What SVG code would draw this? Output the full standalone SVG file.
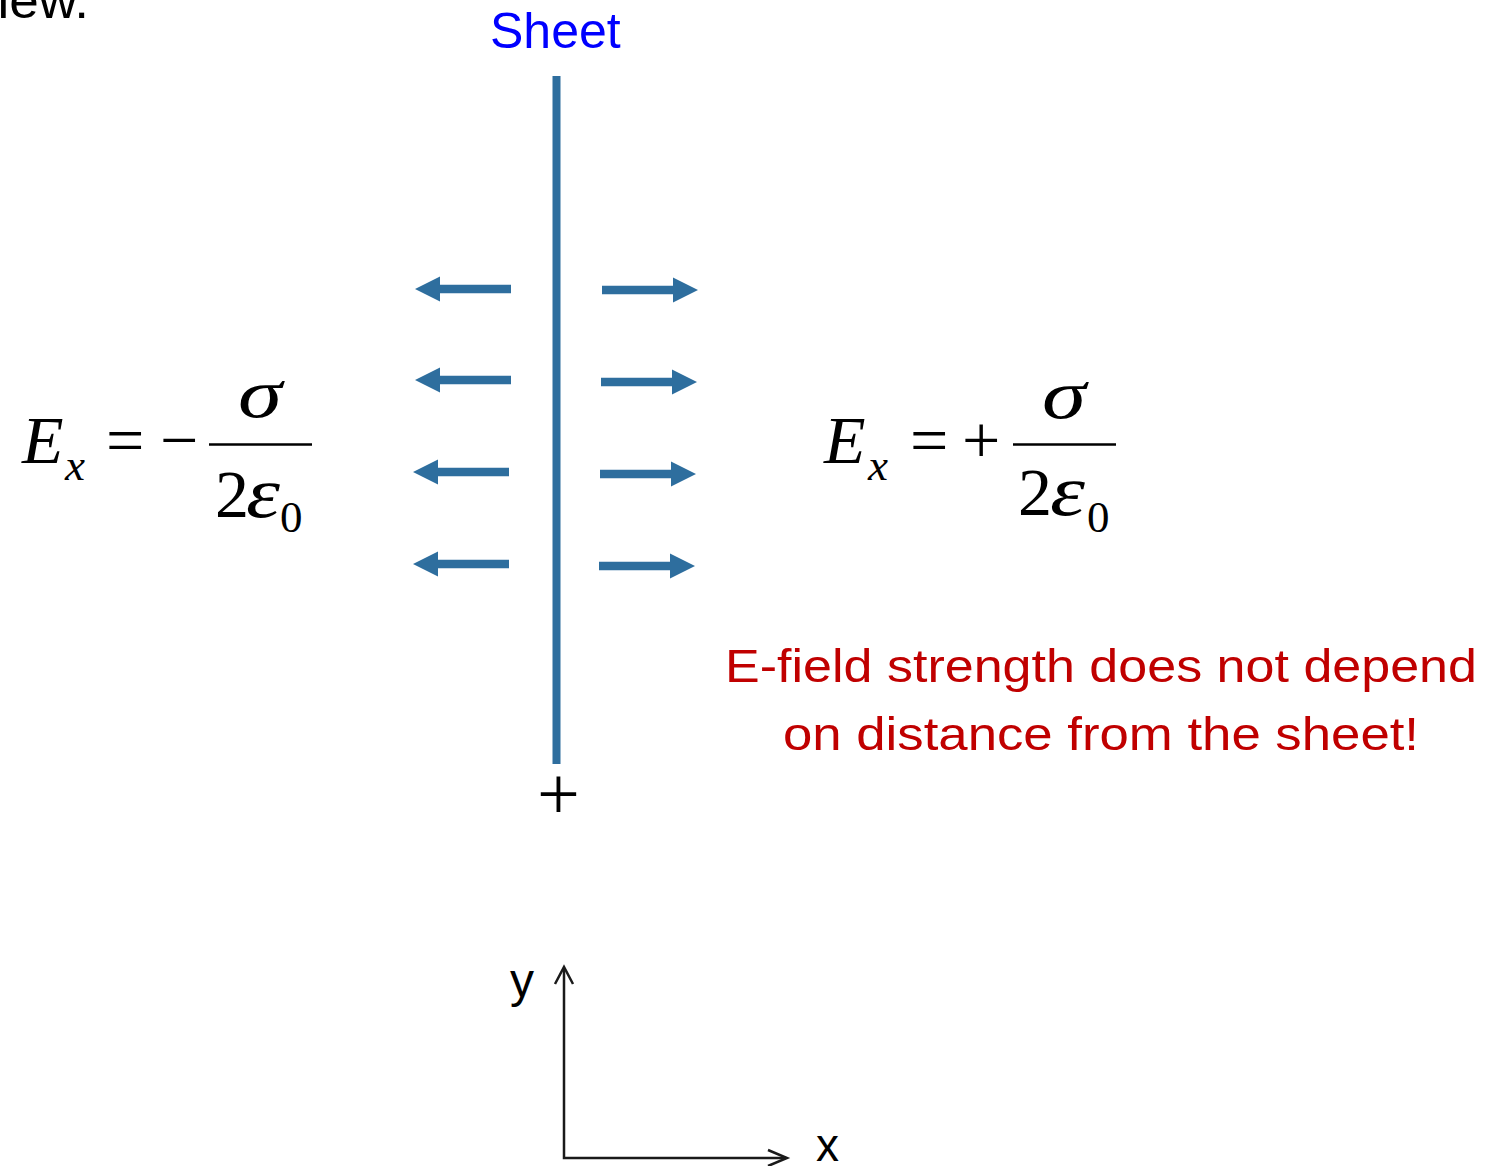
<svg xmlns="http://www.w3.org/2000/svg" width="1499" height="1166" viewBox="0 0 1499 1166">
<style>
.sans{font-family:"Liberation Sans",Arial,sans-serif}
.serif{font-family:"Liberation Serif","Times New Roman",serif}
.it{font-style:italic}
.field{fill:#2E6E9E}
.axis{stroke:#1a1a1a;stroke-width:2.5;fill:none}
.red{fill:#C00000;font-size:47px}
</style>
<defs>
<path id="arrL" d="M0,0 L25,-12.5 L25,-4.2 L96,-4.2 L96,4.2 L25,4.2 L25,12.5 Z"/>
<path id="arrR" d="M0,0 L-25,-12.5 L-25,-4.2 L-96,-4.2 L-96,4.2 L-25,4.2 L-25,12.5 Z"/>
</defs>
<rect width="1499" height="1166" fill="#fff"/>
<text class="sans" x="-29" y="18" font-size="50" fill="#000" textLength="118" lengthAdjust="spacingAndGlyphs">view.</text>
<g id="sheet">
<text class="sans" x="490" y="48" font-size="50" fill="#0000FF">Sheet</text>
<rect x="552.5" y="76" width="8" height="688" class="field"/>
<text class="serif" x="558.5" y="819" font-size="76" text-anchor="middle" fill="#000">+</text>
</g>
<g id="field-arrows" class="field">
<use href="#arrL" x="415" y="289"/>
<use href="#arrL" x="415" y="380"/>
<use href="#arrL" x="413" y="472"/>
<use href="#arrL" x="413" y="564"/>
<use href="#arrR" x="698" y="290"/>
<use href="#arrR" x="697" y="382"/>
<use href="#arrR" x="696" y="474"/>
<use href="#arrR" x="695" y="566"/>
</g>
<g id="eq-left" class="serif" fill="#000">
<text class="it" x="22" y="463" font-size="68">E</text>
<text class="it" x="65" y="480" font-size="45">x</text>
<text x="106" y="463" font-size="68">=</text>
<text x="160" y="463" font-size="68">−</text>
<line x1="209" y1="444.5" x2="312" y2="444.5" stroke="#000" stroke-width="2.5"/>
<text class="it" x="238" y="417" font-size="70" textLength="44" lengthAdjust="spacingAndGlyphs">σ</text>
<text x="215" y="517" font-size="68">2</text>
<text class="it" x="246" y="517" font-size="72" textLength="34" lengthAdjust="spacingAndGlyphs">ε</text>
<text x="280" y="532" font-size="45">0</text>
</g>
<g id="eq-right" class="serif" fill="#000">
<text class="it" x="824" y="463" font-size="68">E</text>
<text class="it" x="868" y="480" font-size="45">x</text>
<text x="910" y="463" font-size="68">=</text>
<text x="962" y="463" font-size="68">+</text>
<line x1="1013" y1="444.5" x2="1116" y2="444.5" stroke="#000" stroke-width="2.5"/>
<text class="it" x="1042" y="418" font-size="70" textLength="44" lengthAdjust="spacingAndGlyphs">σ</text>
<text x="1018" y="515" font-size="68">2</text>
<text class="it" x="1050" y="515" font-size="72" textLength="35" lengthAdjust="spacingAndGlyphs">ε</text>
<text x="1087" y="532" font-size="45">0</text>
</g>
<g id="note" class="sans">
<text class="red" x="725" y="682" textLength="752" lengthAdjust="spacingAndGlyphs">E-field strength does not depend</text>
<text class="red" x="783" y="750" textLength="636" lengthAdjust="spacingAndGlyphs">on distance from the sheet!</text>
</g>
<g id="connectors">
<path class="axis" d="M564,968 L564,1158 L786,1158"/>
<path class="axis" d="M555,984 L564,967 L573,984"/>
<path class="axis" d="M768,1150 L787,1158 L768,1166"/>
</g>
<g id="axis-labels" class="sans" fill="#000">
<text x="510" y="997" font-size="48">y</text>
<text x="816" y="1161" font-size="46">x</text>
</g>
</svg>
